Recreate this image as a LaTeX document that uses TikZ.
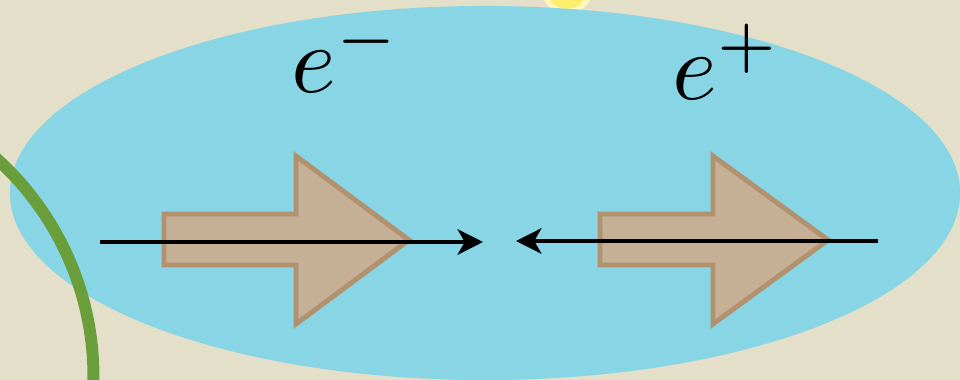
\documentclass[tikz,border=0pt]{standalone}
\usetikzlibrary{arrows.meta}
\definecolor{paper}{RGB}{227,223,201}
\definecolor{sky}{RGB}{135,213,229}
\definecolor{vine}{RGB}{106,158,58}
\definecolor{beamfill}{RGB}{197,175,149}
\definecolor{beamedge}{RGB}{178,145,110}
\definecolor{sun}{RGB}{255,238,110}

\tikzset{
  beam/.style={fill=beamfill, draw=beamedge, line width=3.5pt, line join=miter},
  track/.style={->, line width=3.3pt},
  charge/.style={scale=6.8, inner sep=0pt, anchor=base west}
}

\begin{document}
\begin{tikzpicture}[x=0.025cm,y=-0.025cm,>={Stealth[length=18pt,width=18pt,inset=5pt]}]
        \useasboundingbox (0,0) rectangle (960,380);
        \clip (0,0) rectangle (960,380);
        \fill[paper] (0,0) rectangle (960,380);
        \fill[sun!45] (567,-12) circle (0.65cm);
        \fill[sun] (567,-12) circle (0.52cm);
        \fill[sky] (485,193) ellipse (11.875cm and 4.675cm);
        \draw[vine, line width=8.5pt] (-201,377) circle (7.36cm);
        % beam directions
        \draw[beam] (164,214) -- (296,214) -- (296,156) -- (409,240) -- (296,324) -- (296,265) -- (164,265) -- cycle;
        \draw[beam] (600,214) -- (713,214) -- (713,156) -- (828,240) -- (713,324) -- (713,265) -- (600,265) -- cycle;
        % particle tracks
        \coordinate (eIn) at (100,242);
        \coordinate (eHit) at (483,242);
        \coordinate (pIn) at (878,241);
        \coordinate (pHit) at (516,241);
        \draw[track] (eIn) -- (eHit);
        \draw[track] (pIn) -- (pHit);
        \node (electron) [charge] at (290,93) {$e^-$};
        \node (positron) [charge] at (671,100) {$e^+$};
    \end{tikzpicture}
\end{document}
